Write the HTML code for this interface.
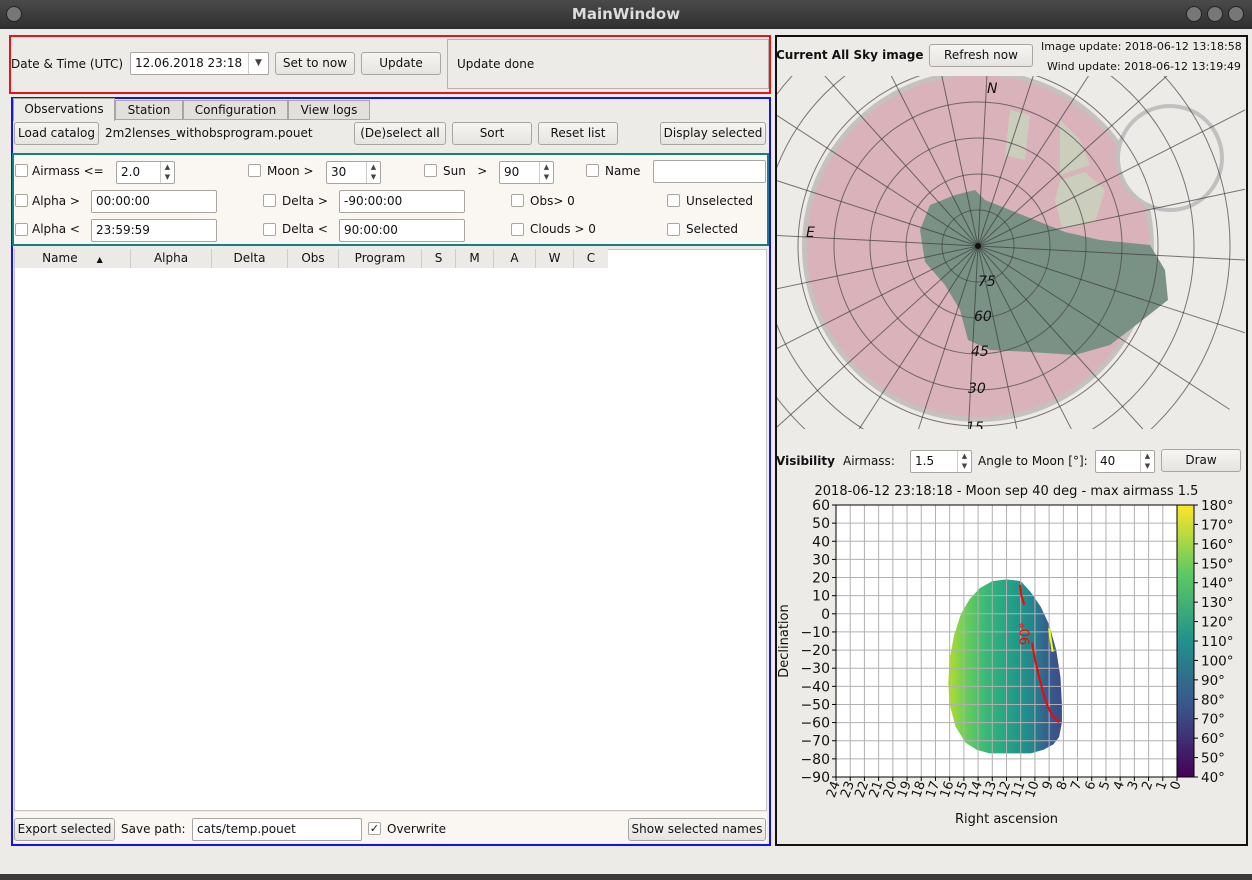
<!DOCTYPE html>
<html><head><meta charset="utf-8"><style>
body{margin:0;width:1252px;height:880px;background:#edebe8;font-family:"DejaVu Sans","Liberation Sans",sans-serif;font-size:12px;color:#111;position:relative;overflow:hidden;white-space:nowrap}
div,span{box-sizing:border-box}
.a{position:absolute}
.btn{position:absolute;border:1px solid #a9a6a1;border-radius:3px;background:linear-gradient(#f6f5f3,#e6e4e0);text-align:center;line-height:21px;height:23px;font-size:12px}
.inp{position:absolute;border:1px solid #a9a6a1;border-radius:2px;background:#fff;height:23px;line-height:21px;padding-left:4px}
.cb{position:absolute;width:13px;height:13px;border:1px solid #a9a6a1;background:#fff;border-radius:2px}
.spin{position:absolute;right:0;top:0;width:14px;height:100%;border-left:1px solid #ccc;font-size:7px;line-height:10px;text-align:center;color:#444}
</style></head><body>
<div class="a" style="left:0;top:0;width:1252px;height:29px;background:linear-gradient(#4a4a4a,#2f2f2f);color:#ddd;font-weight:bold;font-size:15px;text-align:center;line-height:29px">MainWindow</div>
<div class="a" style="left:6px;top:6px;width:16px;height:16px;border-radius:50%;background:#777;border:1px solid #222"></div>
<div class="a" style="left:1186px;top:6px;width:16px;height:16px;border-radius:50%;background:#777;border:1px solid #222"></div>
<div class="a" style="left:1207px;top:6px;width:16px;height:16px;border-radius:50%;background:#777;border:1px solid #222"></div>
<div class="a" style="left:1228px;top:6px;width:16px;height:16px;border-radius:50%;background:#777;border:1px solid #222"></div>
<div class="a" style="left:0;top:874px;width:1252px;height:6px;background:#3a3a3a"></div>

<div class="a" style="left:9px;top:35px;width:762px;height:59px;border:2px solid #e8141c"></div>
<div class="a" style="left:11px;top:57px">Date &amp; Time (UTC)</div>
<div class="inp" style="left:130px;top:52px;width:139px">12.06.2018 23:18<span class="spin" style="width:20px;font-size:9px;line-height:21px">▼</span></div>
<div class="btn" style="left:275px;top:52px;width:80px">Set to now</div>
<div class="btn" style="left:361px;top:52px;width:80px">Update</div>
<div class="a" style="left:447px;top:39px;width:322px;height:50px;border:1px solid #b5b2ad;padding:17px 9px">Update done</div>

<div class="a" style="left:11px;top:97px;width:760px;height:749px;border:2px solid #1414e8"></div>
<div class="a" style="left:13px;top:98px;width:102px;height:23px;border:1px solid #a9a6a1;border-bottom:none;background:#edebe8;text-align:center;line-height:21px">Observations</div>
<div class="a" style="left:115px;top:100px;width:68px;height:20px;border:1px solid #a9a6a1;background:#e2e0dc;text-align:center;line-height:18px">Station</div>
<div class="a" style="left:183px;top:100px;width:105px;height:20px;border:1px solid #a9a6a1;background:#e2e0dc;text-align:center;line-height:18px">Configuration</div>
<div class="a" style="left:288px;top:100px;width:82px;height:20px;border:1px solid #a9a6a1;background:#e2e0dc;text-align:center;line-height:18px">View logs</div>
<div class="btn" style="left:14px;top:122px;width:85px">Load catalog</div>
<div class="a" style="left:105px;top:126px">2m2lenses_withobsprogram.pouet</div>
<div class="btn" style="left:354px;top:122px;width:92px">(De)select all</div>
<div class="btn" style="left:452px;top:122px;width:80px">Sort</div>
<div class="btn" style="left:538px;top:122px;width:80px">Reset list</div>
<div class="btn" style="left:660px;top:122px;width:106px">Display selected</div>

<div class="a" style="left:12px;top:153px;width:757px;height:93px;border:2px solid #148080;background:#faf7f3"></div>
<div class="cb" style="left:15px;top:164px"></div><div class="a" style="left:32px;top:164px">Airmass &lt;=</div>
<div class="inp" style="left:116px;top:161px;width:59px">2.0<span class="spin">▲<br>▼</span></div>
<div class="cb" style="left:248px;top:164px"></div><div class="a" style="left:267px;top:164px">Moon &gt;</div>
<div class="inp" style="left:326px;top:161px;width:55px">30<span class="spin">▲<br>▼</span></div>
<div class="cb" style="left:424px;top:164px"></div><div class="a" style="left:443px;top:164px">Sun &nbsp;&nbsp;&gt;</div>
<div class="inp" style="left:499px;top:161px;width:55px">90<span class="spin">▲<br>▼</span></div>
<div class="cb" style="left:586px;top:164px"></div><div class="a" style="left:605px;top:164px">Name</div>
<div class="inp" style="left:653px;top:160px;width:113px"></div>
<div class="cb" style="left:15px;top:194px"></div><div class="a" style="left:32px;top:194px">Alpha &gt;</div>
<div class="inp" style="left:91px;top:190px;width:126px">00:00:00</div>
<div class="cb" style="left:263px;top:194px"></div><div class="a" style="left:282px;top:194px">Delta &gt;</div>
<div class="inp" style="left:339px;top:190px;width:126px">-90:00:00</div>
<div class="cb" style="left:511px;top:194px"></div><div class="a" style="left:530px;top:194px">Obs&gt; 0</div>
<div class="cb" style="left:667px;top:194px"></div><div class="a" style="left:686px;top:194px">Unselected</div>
<div class="cb" style="left:15px;top:223px"></div><div class="a" style="left:32px;top:222px">Alpha &lt;</div>
<div class="inp" style="left:91px;top:219px;width:126px">23:59:59</div>
<div class="cb" style="left:263px;top:223px"></div><div class="a" style="left:282px;top:222px">Delta &lt;</div>
<div class="inp" style="left:339px;top:219px;width:126px">90:00:00</div>
<div class="cb" style="left:511px;top:223px"></div><div class="a" style="left:530px;top:222px">Clouds &gt; 0</div>
<div class="cb" style="left:667px;top:223px"></div><div class="a" style="left:686px;top:222px">Selected</div>

<div class="a" style="left:14px;top:249px;width:753px;height:562px;background:#fff;border:1px solid #c8c5c0"></div>
<div class="a" style="left:15px;top:249px;width:593px;height:19px;background:#eceae6;display:flex;line-height:18px;text-align:center">
<div style="width:116px;border-right:1px solid #ccc">Name &nbsp;&nbsp;&nbsp;&nbsp;<span style="font-size:8px">▲</span></div>
<div style="width:81px;border-right:1px solid #ccc">Alpha</div>
<div style="width:76px;border-right:1px solid #ccc">Delta</div>
<div style="width:51px;border-right:1px solid #ccc">Obs</div>
<div style="width:83px;border-right:1px solid #ccc">Program</div>
<div style="width:34px;border-right:1px solid #ccc">S</div>
<div style="width:38px;border-right:1px solid #ccc">M</div>
<div style="width:42px;border-right:1px solid #ccc">A</div>
<div style="width:38px;border-right:1px solid #ccc">W</div>
<div style="width:34px">C</div></div>
<div class="a" style="left:14px;top:812px;width:753px;height:31px;background:#faf7f3"></div>
<div class="btn" style="left:14px;top:818px;width:101px">Export selected</div>
<div class="a" style="left:121px;top:822px">Save path:</div>
<div class="inp" style="left:192px;top:818px;width:170px">cats/temp.pouet</div>
<div class="cb" style="left:368px;top:822px;font-size:11px;line-height:11px;text-align:center">✓</div>
<div class="a" style="left:387px;top:822px">Overwrite</div>
<div class="btn" style="left:628px;top:818px;width:138px">Show selected names</div>

<div class="a" style="left:775px;top:35px;width:473px;height:811px;border:2px solid #111"></div>
<div class="a" style="left:776px;top:48px;font-weight:bold">Current All Sky image</div>
<div class="btn" style="left:929px;top:44px;width:104px">Refresh now</div>
<div class="a" style="left:1041px;top:40px;font-size:11px">Image update: 2018-06-12 13:18:58</div>
<div class="a" style="left:1047px;top:60px;font-size:11px">Wind update: 2018-06-12 13:19:49</div>

<svg class="a" style="left:777px;top:76px;overflow:hidden" width="468" height="353" viewBox="777 76 468 353">
<circle cx="978" cy="246" r="176" fill="#c4c1bf"/>
<circle cx="978" cy="246" r="171" fill="#d9b2ba"/>
<path d="M920,230 L930,205 L955,195 L975,190 L985,200 L1010,210 L1040,222 L1065,232 L1100,240 L1150,245 L1165,270 L1168,300 L1140,322 L1110,345 L1075,355 L1030,352 L990,350 L968,340 L960,310 L945,285 L925,262 Z" fill="#7a9286"/>
<path d="M1060,180 L1085,172 L1105,190 L1095,222 L1062,228 L1055,200 Z M1010,110 L1030,115 L1025,160 L1005,155 Z M1060,120 L1080,140 L1090,165 L1060,175 Z" fill="#cbcdbd"/>
<circle cx="1170" cy="158" r="52" fill="#edebe8" stroke="#c0c0c0" stroke-width="4"/>
<g fill="none" stroke="#444" stroke-opacity="0.7">
<circle cx="978" cy="246" r="36"/><circle cx="978" cy="246" r="72"/><circle cx="978" cy="246" r="108"/><circle cx="978" cy="246" r="144"/><circle cx="978" cy="246" r="180"/><circle cx="978" cy="246" r="216"/><circle cx="978" cy="246" r="252"/>
</g>
<g id="spokes" stroke="#333" stroke-opacity="0.65"></g>
<circle cx="978" cy="246" r="3" fill="#111"/>
<g font-style="italic" font-size="14" fill="#111"><text x="987" y="93">N</text><text x="806" y="237">E</text><text x="978" y="286">75</text><text x="974" y="321">60</text><text x="971" y="356">45</text><text x="968" y="393">30</text><text x="966" y="432">15</text></g>
</svg>

<div class="a" style="left:776px;top:454px;font-weight:bold">Visibility</div>
<div class="a" style="left:843px;top:454px">Airmass:</div>
<div class="inp" style="left:910px;top:450px;width:62px">1.5<span class="spin">▲<br>▼</span></div>
<div class="a" style="left:978px;top:454px">Angle to Moon [°]:</div>
<div class="inp" style="left:1095px;top:450px;width:60px">40<span class="spin">▲<br>▼</span></div>
<div class="btn" style="left:1161px;top:449px;width:80px">Draw</div>

<svg class="a" id="chart" style="left:776px;top:476px" width="470" height="360" font-family="DejaVu Sans, Liberation Sans, sans-serif" font-size="13">
<defs>
<linearGradient id="vir" x1="0" y1="1" x2="0" y2="0"><stop offset="0" stop-color="#440154"/><stop offset="0.25" stop-color="#3b528b"/><stop offset="0.5" stop-color="#21918c"/><stop offset="0.75" stop-color="#5ec962"/><stop offset="1" stop-color="#fde725"/></linearGradient>
<linearGradient id="fillg" x1="0" y1="0" x2="1" y2="0"><stop offset="0" stop-color="#b5de2b"/><stop offset="0.15" stop-color="#6ccd5a"/><stop offset="0.35" stop-color="#35b779"/><stop offset="0.6" stop-color="#1f9a8a"/><stop offset="0.75" stop-color="#26828e"/><stop offset="0.85" stop-color="#33638d"/><stop offset="1" stop-color="#3e4a89"/></linearGradient>
</defs>
</svg>
<script>
const raTicks=[24,23,22,21,20,19,18,17,16,15,14,13,12,11,10,9,8,7,6,5,4,3,2,1,0];
const decTicks=[60,50,40,30,20,10,0,-10,-20,-30,-40,-50,-60,-70,-80,-90];
const cbTicks=[40,50,60,70,80,90,100,110,120,130,140,150,160,170,180];
const regionRA=[12,11,10.3,9.6,9.0,8.5,8.2,8.1,8.1,8.3,8.7,9.4,10.3,11.2,12.2,13.2,14.1,14.9,15.6,16.0,16.1,16.0,15.7,15.2,14.6,13.9,13.0,12];
const regionDec=[19,18,12,4,-6,-20,-35,-50,-60,-68,-72,-75,-77,-77,-77,-77,-75,-71,-62,-50,-38,-25,-12,0,8,14,18,19];
const moonRA1=[11.05,10.95,10.75];const moonDec1=[16,10,5];
const moonRA2=[10.2,10.0,9.7,9.4,9.1,8.8,8.3];const moonDec2=[-16,-25,-35,-44,-51,-56,-60];
const sunRA=[9.0,8.75];const sunDec=[-8,-21];
const X0=60,X1=401,Y0=29,Y1=301;
const xs=r=>X0+(24-r)/24*(X1-X0), ys=d=>Y0+(60-d)/150*(Y1-Y0);
const svg=document.getElementById('chart'),NS='http://www.w3.org/2000/svg';
function mk(t,a,p){const e=document.createElementNS(NS,t);for(const k in a)e.setAttribute(k,a[k]);(p||svg).appendChild(e);return e;}
let el=mk('rect',{x:X0,y:Y0,width:X1-X0,height:Y1-Y0,fill:'#fff'});


el=mk('polygon',{points:regionRA.map((r,i)=>xs(r)+','+ys(regionDec[i])).join(' '),fill:'url(#fillg)'});


raTicks.forEach(r=>{mk('line',{x1:xs(r),x2:xs(r),y1:Y0,y2:Y1,stroke:'#b0b0b0'});mk('line',{x1:xs(r),x2:xs(r),y1:Y1,y2:Y1+4,stroke:'#000'});
 const t=mk('text',{transform:`translate(${xs(r)+4},${Y1+6}) rotate(-70)`,'text-anchor':'end',fill:'#111'});t.textContent=r;
 
 });
decTicks.forEach(d=>{mk('line',{x1:X0,x2:X1,y1:ys(d),y2:ys(d),stroke:'#b0b0b0'});mk('line',{x1:X0-4,x2:X0,y1:ys(d),y2:ys(d),stroke:'#000'});
 const t=mk('text',{x:X0-6,y:ys(d)+5,'text-anchor':'end',fill:'#111','font-size':'14'});t.textContent=d<0?'\u2212'+(-d):d;
 
 });
function line(ra,dec,c,n){const e=mk('polyline',{points:ra.map((r,i)=>xs(r)+','+ys(dec[i])).join(' '),fill:'none',stroke:c,'stroke-width':2});
 
 }
line(moonRA1,moonDec1,'#f00','moon-contour-upper');line(moonRA2,moonDec2,'#f00','moon-contour-lower');line(sunRA,sunDec,'#ff0','sun-contour');
el=mk('text',{transform:`translate(${xs(10.75)+5},${ys(-11)}) rotate(-90)`,fill:'#f00','text-anchor':'middle','font-size':'13'});el.textContent='90°';


mk('rect',{x:X0,y:Y0,width:X1-X0,height:Y1-Y0,fill:'none',stroke:'#000'});
const CX=401,CW=17;
el=mk('rect',{x:CX,y:Y0,width:CW,height:Y1-Y0,fill:'url(#vir)',stroke:'#000'});


const cy=v=>Y1-(v-40)/140*(Y1-Y0);
cbTicks.forEach(v=>{mk('line',{x1:CX+CW,x2:CX+CW+4,y1:cy(v),y2:cy(v),stroke:'#000'});const t=mk('text',{x:CX+CW+7,y:cy(v)+5,fill:'#111','font-size':'13.5'});t.textContent=v+'°';
 
 });
el=mk('text',{x:(X0+X1)/2,y:19,'text-anchor':'middle',fill:'#111'});el.textContent='2018-06-12 23:18:18 - Moon sep 40 deg - max airmass 1.5';


el=mk('text',{x:(X0+X1)/2,y:347,'text-anchor':'middle',fill:'#111'});el.textContent='Right ascension';


el=mk('text',{transform:'translate(12,165) rotate(-90)','text-anchor':'middle',fill:'#111'});el.textContent='Declination';


const sp=document.getElementById('spokes');
for(let i=0;i<12;i++){const a=(i*15+3)*Math.PI/180;const l=document.createElementNS(NS,'line');l.setAttribute('x1',978-300*Math.cos(a));l.setAttribute('y1',246-300*Math.sin(a));l.setAttribute('x2',978+300*Math.cos(a));l.setAttribute('y2',246+300*Math.sin(a));sp.appendChild(l);}
</script>
</body></html>
